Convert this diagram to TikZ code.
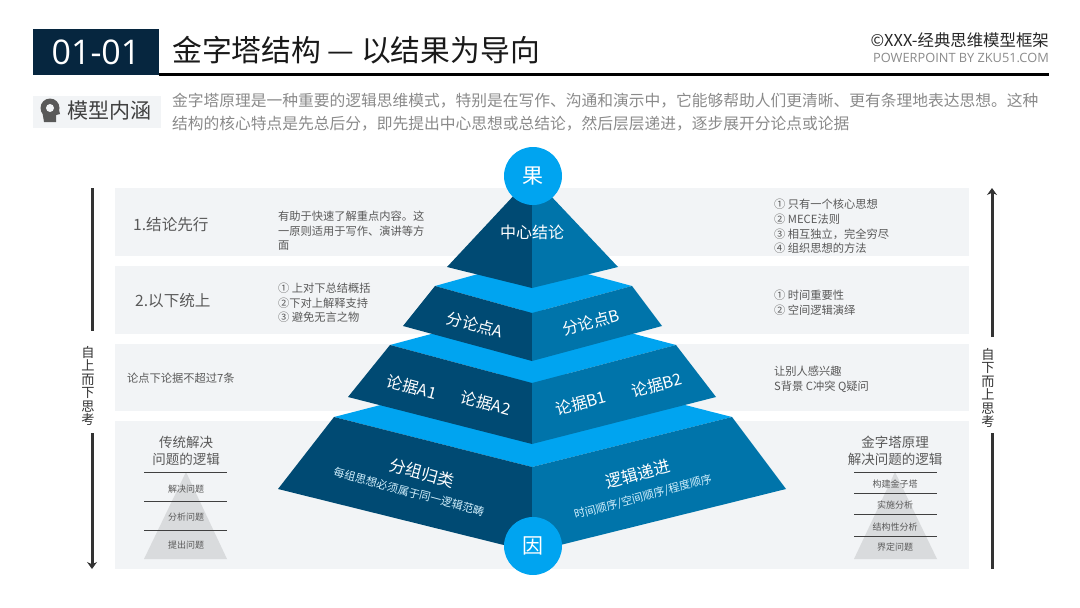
\documentclass[tikz,border=0pt]{standalone}
\usepackage{fontspec}
\setmainfont{Noto Sans CJK SC}
\usetikzlibrary{arrows.meta}
\newcommand{\fsz}[2]{\fontsize{#1}{#2}\selectfont}
\definecolor{navy}{HTML}{06263F}
\definecolor{band}{HTML}{F2F4F6}
\definecolor{faceL}{HTML}{004A73}
\definecolor{faceR}{HTML}{0074AA}
\definecolor{faceT}{HTML}{00A4F0}
\definecolor{bodytxt}{HTML}{595959}
\definecolor{paratxt}{HTML}{8A8A8A}
\definecolor{minipyr}{HTML}{D9DBDD}

\begin{document}
\begin{tikzpicture}[
  x=1pt, y=-1pt,
  txt/.style={inner sep=0pt, anchor=west, align=left, text=bodytxt, font=\fsz{11.25}{14.6}},
  head/.style={inner sep=0pt, text=bodytxt, font=\fsz{15.6}{20}},
  mini/.style={inner sep=0pt, text=bodytxt, align=center, font=\fsz{13.5}{17}},
  minilbl/.style={inner sep=0pt, text=bodytxt, font=\fsz{9}{11}},
  vert/.style={inner sep=0pt, align=center, text=black!80, font=\fsz{13.2}{13.5}},
  lvl/.style={inner sep=0pt, text=white, font=\fsz{16}{20}},
  sublvl/.style={inner sep=0pt, text=white!82!faceT, font=\fsz{11.1}{13}},
  capc/.style={circle, fill=faceT, minimum size=58pt, inner sep=0pt, text=white, font=\fsz{21}{24}},
  bar/.style={line width=3pt, black!80},
  bara/.style={bar, -{Stealth[length=7pt,width=10pt]}},
  rul/.style={line width=0.7pt, black!75},
]
\useasboundingbox (0,0) rectangle (1080,608);

%% ---- Header ----
\fill[black] (159,72.5) rectangle (1049,75.5);
\node[fill=navy, minimum width=126pt, minimum height=46.5pt, inner sep=0pt, text=white,
      font=\fontspec{Open Sans}\fsz{34}{38}] (num) at (96,52) {01-01};
\node[inner sep=0pt, anchor=west, font=\fsz{29.8}{34}, text=black!90] (title) at (172,50)
  {金字塔结构 — 以结果为导向};
\node[inner sep=0pt, anchor=east, font=\fsz{16.4}{18}, text=black!85] (copy) at (1049,40)
  {©XXX-经典思维模型框架};
\node[inner sep=0pt, anchor=east, font=\fontspec{Open Sans}\fsz{12.8}{14}, text=paratxt] (by) at (1049,58)
  {POWERPOINT BY ZKU51.COM};

%% ---- Model tag ----
\node[fill=band, minimum width=128pt, minimum height=32pt, inner sep=0pt] (tag) at (97,112) {};
\fill[black!65] (50,108) circle (9.5pt);
\fill[black!65] (42,110) -- (44,122) -- (56,122) -- (56,115) -- (60,114) -- (58,106) -- cycle;
\fill[band] (50,108) circle (4pt);
\node[inner sep=0pt, anchor=west, font=\fsz{21}{24}, text=black!75] (tagt) at (67,111) {模型内涵};
\node[inner sep=0pt, anchor=west, align=left, font=\fsz{15.75}{23}, text=paratxt] (para) at (172,112.5)
  {金字塔原理是一种重要的逻辑思维模式，特别是在写作、沟通和演示中，它能够帮助人们更清晰、更有条理地表达思想。这种\\
   结构的核心特点是先总后分，即先提出中心思想或总结论，然后层层递进，逐步展开分论点或论据};

%% ---- Bands ----
\fill[band] (115,188) rectangle (969,256);
\fill[band] (115,266) rectangle (969,334);
\fill[band] (115,344) rectangle (969,411);
\fill[band] (115,421) rectangle (969,569);

%% ---- Side arrows ----
\coordinate (lA) at (92,188);
\coordinate (lB) at (92,331);
\coordinate (lC) at (92,433);
\coordinate (lD) at (92,569);
\coordinate (rA) at (992,569);
\coordinate (rB) at (992,433);
\coordinate (rC) at (992,337);
\coordinate (rD) at (992,188);
\draw[bar]  (lA) -- (lB);
\draw[bara] (lC) -- (lD);
\draw[bar]  (rA) -- (rB);
\draw[bara] (rC) -- (rD);
\node[vert] (lv) at (88,386) {自\\上\\而\\下\\思\\考};
\node[vert] (rv) at (988,388) {自\\下\\而\\上\\思\\考};

%% ---- Left column ----
\node[head, anchor=west] (h1) at (133,225) {1.结论先行};
\node[head, anchor=west] (h2) at (135,301) {2.以下统上};
\node[txt] (t3) at (127,378) {论点下论据不超过7条};
\node[txt] (t1) at (278,231) {有助于快速了解重点内容。这\\一原则适用于写作、演讲等方\\面};
\node[txt] (t2) at (278,303) {① 上对下总结概括\\②下对上解释支持\\③ 避免无言之物};

%% ---- Right column ----
\node[txt] (r1) at (774,226.5) {① 只有一个核心思想\\② MECE法则\\③ 相互独立，完全穷尽\\④ 组织思想的方法};
\node[txt] (r2) at (774,303) {① 时间重要性\\② 空间逻辑演绎};
\node[txt] (r3) at (774,379) {让别人感兴趣\\S背景 C冲突 Q疑问};

%% ---- Pyramid (bottom tier first) ----
\fill[faceT] (334,417) -- (532,366) -- (732,417) -- (532,467) -- cycle;
\fill[faceL] (334,417) -- (532,467) -- (532,552) -- (278,489) -- cycle;
\fill[faceR] (732,417) -- (532,467) -- (532,552) -- (786,489) -- cycle;

\fill[faceT] (390,345) -- (532,307) -- (676,345) -- (532,383) -- cycle;
\fill[faceL] (390,345) -- (532,383) -- (532,444) -- (348,397) -- cycle;
\fill[faceR] (676,345) -- (532,383) -- (532,444) -- (716,397) -- cycle;

\fill[faceT] (435,286) -- (532,259) -- (632,286) -- (532,313) -- cycle;
\fill[faceL] (435,286) -- (532,313) -- (532,361) -- (403,326) -- cycle;
\fill[faceR] (632,286) -- (532,313) -- (532,361) -- (662,326) -- cycle;

\fill[faceL] (532,176) -- (532,288) -- (447,267) -- cycle;
\fill[faceR] (532,176) -- (532,288) -- (618,267) -- cycle;

\node[capc] (guo) at (533,176) {果};
\node[capc] (yin) at (533,546) {因};

%% ---- Pyramid labels ----
\node[lvl] (c0) at (532,232) {中心结论};
\node[lvl, rotate=-15] (a)  at (475,325) {分论点A};
\node[lvl, rotate=15]  (b)  at (591,322) {分论点B};
\node[lvl, rotate=-15] (a1) at (412,387) {论据A1};
\node[lvl, rotate=-15] (a2) at (486,403) {论据A2};
\node[lvl, rotate=15]  (b1) at (581,403) {论据B1};
\node[lvl, rotate=15]  (b2) at (657,385) {论据B2};
\node[lvl, rotate=-15, font=\fsz{16.5}{20}] (g1) at (422,473) {分组归类};
\node[sublvl, rotate=-15] (g2) at (409,492) {每组思想必须属于同一逻辑范畴};
\node[lvl, rotate=15, font=\fsz{16.5}{20}] (l1) at (638,474) {逻辑递进};
\node[sublvl, rotate=15] (l2) at (643,497) {时间顺序/空间顺序/程度顺序};

%% ---- Small pyramid, left ----
\fill[minipyr] (186,472) -- (227,559) -- (144,559) -- cycle;
\node[mini] (mL) at (186,450.5) {传统解决\\问题的逻辑};
\foreach \yy in {472,501,530} \draw[rul] (144,\yy) -- (227,\yy);
\node[minilbl] (mL1) at (186,489) {解决问题};
\node[minilbl] (mL2) at (186,517) {分析问题};
\node[minilbl] (mL3) at (186,545) {提出问题};

%% ---- Small pyramid, right ----
\fill[minipyr] (895,472) -- (937,559) -- (854,559) -- cycle;
\node[mini] (mR) at (895,450.5) {金字塔原理\\解决问题的逻辑};
\foreach \yy in {472,493,514,536} \draw[rul] (854,\yy) -- (937,\yy);
\node[minilbl] (mR1) at (895,484) {构建金子塔};
\node[minilbl] (mR2) at (895,505) {实施分析};
\node[minilbl] (mR3) at (895,527) {结构性分析};
\node[minilbl] (mR4) at (895,547) {界定问题};
\end{tikzpicture}
\end{document}
